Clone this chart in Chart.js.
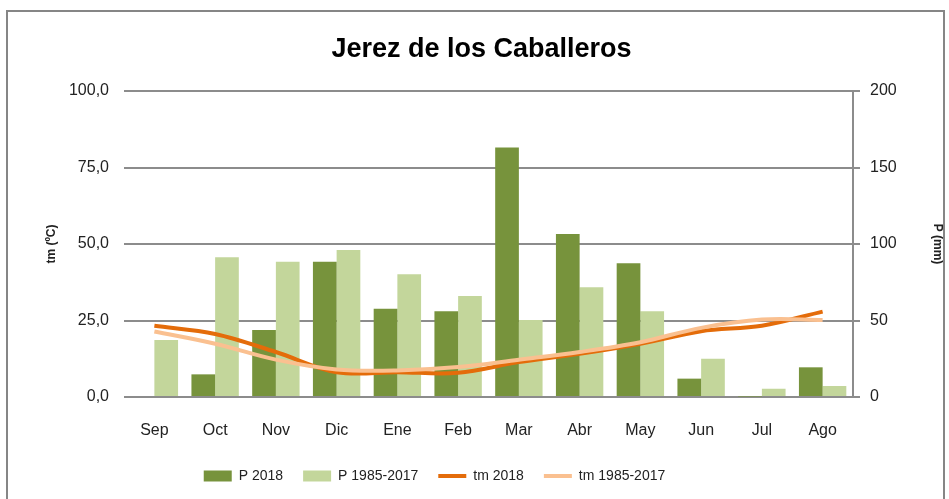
<!DOCTYPE html>
<html>
<head>
<meta charset="utf-8">
<script src="https://cdn.jsdelivr.net/npm/chart.js@4.4.0/dist/chart.umd.min.js"></script>
<style>
  html, body { margin: 0; padding: 0; background: #fff; }
  #wrap { width: 949px; height: 499px; }
</style>
</head>
<body>
<div id="wrap"><canvas id="climaChart"></canvas></div>
<script>
const months = ['Sep', 'Oct', 'Nov', 'Dic', 'Ene', 'Feb', 'Mar', 'Abr', 'May', 'Jun', 'Jul', 'Ago'];

// precipitacion (mm), eje derecho
const p2018 = [0, 14.8, 43.8, 88.4, 57.7, 56, 163, 106.5, 87.4, 12, 0.3, 19.4];
const pMedia = [37.3, 91.3, 88.4, 96, 80.2, 66, 50.3, 71.7, 56, 25, 5.4, 7.2];

// temperatura media (ºC), eje izquierdo
const tm2018 = [23.3, 20.6, 14.7, 8.1, 8.1, 7.9, 11.4, 14.1, 17.4, 21.5, 23.3, 27.9];
const tmMedia = [21.4, 17.4, 12.2, 9.0, 8.7, 9.8, 12.2, 14.7, 17.9, 22.6, 25.3, 25.2];

const leftTicks = ['0,0', '25,0', '50,0', '75,0', '100,0'];
const rightTicks = ['0', '50', '100', '150', '200'];

const FONT = "'Liberation Sans', Arial, sans-serif";

const framePlugin = {
    id: 'frame',
    beforeDraw(chart) {
        const c = chart.ctx;
        c.save();
        c.fillStyle = '#fff';
        c.fillRect(0, 0, chart.width, chart.height);
        c.strokeStyle = '#868686';
        c.lineWidth = 2;
        c.strokeRect(7, 11, 937, 500);
        c.restore();
    },
    // legend and title sit a bit left of centre in the original
    afterLayout(chart) {
        const lg = chart.legend;
        if (lg) {
            lg.left -= 60;
            lg.right -= 60;
        }
        const tb = chart.titleBlock;
        if (tb) {
            tb.left -= 13;
            tb.right -= 13;
        }
    }
};

document.addEventListener('DOMContentLoaded', () => {
    const ctx = document.getElementById('climaChart').getContext('2d');
    new Chart(ctx, {
        data: {
            labels: months,
            datasets: [
                {
                    type: 'bar',
                    label: 'P 2018',
                    data: p2018,
                    yAxisID: 'y1',
                    backgroundColor: '#77933C',
                    borderWidth: 0,
                    order: 2
                },
                {
                    type: 'bar',
                    label: 'P 1985-2017',
                    data: pMedia,
                    yAxisID: 'y1',
                    backgroundColor: '#C3D69B',
                    borderWidth: 0,
                    order: 2
                },
                {
                    type: 'line',
                    label: 'tm 2018',
                    data: tm2018,
                    yAxisID: 'y',
                    borderColor: '#E46C0A',
                    backgroundColor: '#E46C0A',
                    borderWidth: 4,
                    pointRadius: 0,
                    tension: 0.35,
                    order: 1
                },
                {
                    type: 'line',
                    label: 'tm 1985-2017',
                    data: tmMedia,
                    yAxisID: 'y',
                    borderColor: '#FAC090',
                    backgroundColor: '#FAC090',
                    borderWidth: 4,
                    pointRadius: 0,
                    tension: 0.35,
                    order: 0
                }
            ]
        },
        options: {
            responsive: true,
            maintainAspectRatio: false,
            animation: false,
            layout: { padding: { left: 40, right: 0, top: 0, bottom: 6 } },
            datasets: {
                bar: { categoryPercentage: 0.78, barPercentage: 1.0 }
            },
            scales: {
                x: {
                    grid: { display: false },
                    border: { display: false },
                    ticks: { color: '#222', padding: 16, font: { family: FONT, size: 16 } },
                    afterFit: s => { s.height = 52; }
                },
                y: {
                    position: 'left',
                    min: 0,
                    max: 100,
                    ticks: {
                        stepSize: 25,
                        padding: 15,
                        color: '#222',
                        font: { family: FONT, size: 16 },
                        callback: (v, i) => leftTicks[i]
                    },
                    grid: { color: '#8c8c8c', lineWidth: 2, drawTicks: false },
                    border: { display: false },
                    title: {
                        display: true,
                        text: 'tm (ºC)',
                        color: '#222',
                        font: { family: FONT, size: 12, weight: 'bold' }
                    },
                    afterFit: s => { s.width = 84; }
                },
                y1: {
                    position: 'right',
                    min: 0,
                    max: 200,
                    ticks: {
                        stepSize: 50,
                        padding: 10,
                        color: '#222',
                        font: { family: FONT, size: 16 },
                        callback: (v, i) => rightTicks[i]
                    },
                    grid: { drawOnChartArea: false, color: '#8c8c8c', lineWidth: 2, tickLength: 7 },
                    border: { display: true, color: '#8c8c8c', width: 2 },
                    title: {
                        display: true,
                        text: 'P (mm)',
                        color: '#222',
                        font: { family: FONT, size: 12, weight: 'bold' }
                    },
                    afterFit: s => { s.width = 96; }
                }
            },
            plugins: {
                title: {
                    display: true,
                    text: 'Jerez de los Caballeros',
                    color: '#000',
                    font: { family: FONT, size: 27, weight: 'bold' },
                    padding: { top: 33, bottom: 25.6 }
                },
                legend: {
                    position: 'bottom',
                    labels: {
                        usePointStyle: true,
                        pointStyleWidth: 28,
                        boxHeight: 11,
                        padding: 20,
                        color: '#222',
                        font: { family: FONT, size: 14 },
                        sort: (a, b) => a.datasetIndex - b.datasetIndex,
                        generateLabels: chart => {
                            const items = Chart.defaults.plugins.legend.labels.generateLabels(chart);
                            items.forEach(it => {
                                const ds = chart.data.datasets[it.datasetIndex];
                                it.pointStyle = ds.type === 'line' ? 'line' : 'rect';
                                it.lineWidth = ds.type === 'line' ? 4 : 0;
                            });
                            return items;
                        }
                    }
                },
                tooltip: { enabled: false }
            }
        },
        plugins: [framePlugin]
    });
});
</script>
</body>
</html>
